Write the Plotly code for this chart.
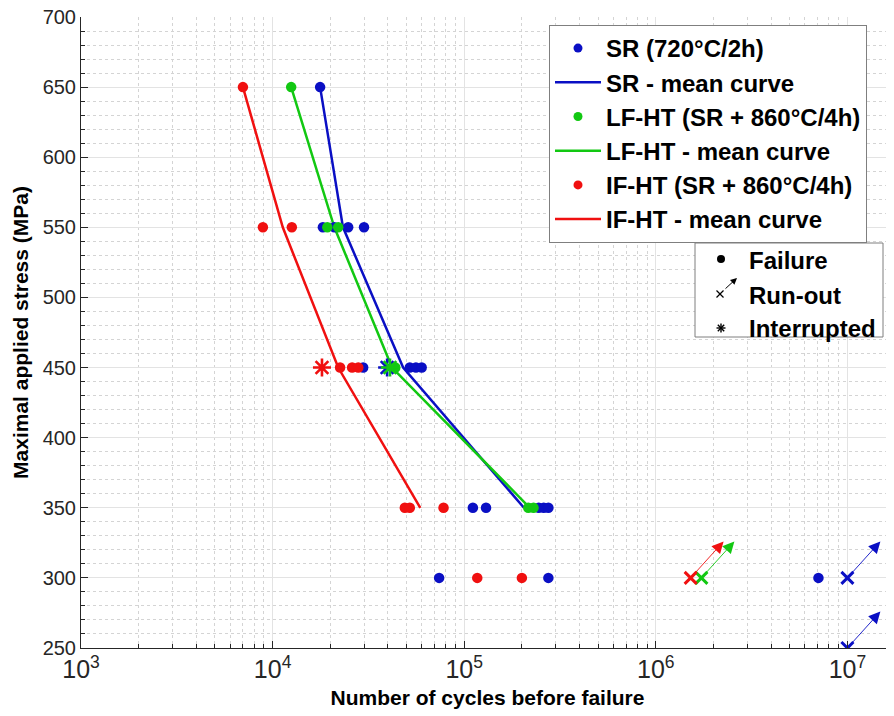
import numpy as np
import plotly.graph_objects as go

# ---------------- data ----------------
# SR (720°C/2h)
SR_FAIL_N = [1.77e4, 1.83e4, 2.1e4, 2.48e4, 3.0e4, 2.97e4, 5.2e4, 5.6e4, 6.0e4,
             1.11e5, 1.30e5, 2.45e5, 2.6e5, 2.75e5, 7.4e4, 2.75e5, 7.06e6]
SR_FAIL_S = [650, 550, 550, 550, 550, 450, 450, 450, 450,
             350, 350, 350, 350, 350, 300, 300, 300]
SR_INT_N = [3.96e4]
SR_INT_S = [450]
SR_RUN_N = [1.0e7, 1.0e7]
SR_RUN_S = [300, 250]
SR_MEAN_N = [1.77e4, 2.33e4, 4.8e4, 2.05e5]
SR_MEAN_S = [650, 550, 450, 350]

# LF-HT (SR + 860°C/4h)
LF_FAIL_N = [1.25e4, 1.93e4, 2.2e4, 4.37e4, 2.16e5, 2.3e5]
LF_FAIL_S = [650, 550, 550, 450, 350, 350]
LF_INT_N = [4.1e4]
LF_INT_S = [450]
LF_RUN_N = [1.73e6]
LF_RUN_S = [300]
LF_MEAN_N = [1.25e4, 2.1e4, 4.2e4, 2.2e5]
LF_MEAN_S = [650, 550, 450, 350]

# IF-HT (SR + 860°C/4h)
IF_FAIL_N = [7.0e3, 8.9e3, 1.26e4, 2.25e4, 2.6e4, 2.8e4, 4.9e4, 5.2e4, 7.8e4, 1.17e5, 2.0e5]
IF_FAIL_S = [650, 550, 550, 450, 450, 450, 350, 350, 350, 300, 300]
IF_INT_N = [1.81e4]
IF_INT_S = [450]
IF_RUN_N = [1.52e6]
IF_RUN_S = [300]
IF_MEAN_N = [7.0e3, 1.13e4, 2.2e4, 5.9e4]
IF_MEAN_S = [650, 550, 450, 350]

Y_TICKS = list(range(250, 701, 50))

# ---------------- style ----------------
BLUE = "#0a0fc4"
GREEN = "#12c812"
RED = "#f01010"
ARROW_DLOG = 0.172   # run-out arrow extent (decades)
ARROW_DS = 26        # run-out arrow extent (MPa)
FONT = "Arial, Liberation Sans, sans-serif"

series = [
    ("SR (720°C/2h)", "SR - mean curve", BLUE, SR_FAIL_N, SR_FAIL_S, SR_MEAN_N, SR_MEAN_S,
     SR_INT_N, SR_INT_S, SR_RUN_N, SR_RUN_S),
    ("LF-HT (SR + 860°C/4h)", "LF-HT - mean curve", GREEN, LF_FAIL_N, LF_FAIL_S, LF_MEAN_N, LF_MEAN_S,
     LF_INT_N, LF_INT_S, LF_RUN_N, LF_RUN_S),
    ("IF-HT (SR + 860°C/4h)", "IF-HT - mean curve", RED, IF_FAIL_N, IF_FAIL_S, IF_MEAN_N, IF_MEAN_S,
     IF_INT_N, IF_INT_S, IF_RUN_N, IF_RUN_S),
]

fig = go.Figure()

# mean curves (also legend entries) and legend-only point entries
for i, (pname, lname, col, fn, fs, mn, ms, inn, ins, rn, rs) in enumerate(series):
    fig.add_trace(go.Scatter(x=[None], y=[None], mode="markers", name=pname,
                             marker=dict(color=col, size=9), legendrank=2 * i + 1))
    fig.add_trace(go.Scatter(x=mn, y=ms, mode="lines", name=lname,
                             line=dict(color=col, width=2.5), legendrank=2 * i + 2))

# data markers
for i, (pname, lname, col, fn, fs, mn, ms, inn, ins, rn, rs) in enumerate(series):
    fig.add_trace(go.Scatter(x=fn, y=fs, mode="markers", showlegend=False,
                             marker=dict(color=col, size=10.5)))
    fig.add_trace(go.Scatter(x=inn, y=ins, mode="markers", showlegend=False,
                             marker=dict(symbol="asterisk-open", size=15, color=col,
                                         line=dict(color=col, width=2.6))))
    fig.add_trace(go.Scatter(x=rn, y=rs, mode="markers", showlegend=False,
                             marker=dict(symbol="x-thin-open", size=12, color=col,
                                         line=dict(color=col, width=3))))
    for n, s in zip(rn, rs):
        fig.add_annotation(x=np.log10(n) + ARROW_DLOG, y=s + ARROW_DS,
                           ax=np.log10(n), ay=s, xref="x", yref="y", axref="x", ayref="y",
                           text="", showarrow=True, arrowhead=2, arrowsize=2.6,
                           arrowwidth=0.9, arrowcolor=col)

# ---------------- geometry (screen pixels; page body has an 8px margin) ----------------
BODY = 8
W, H = 894 - BODY, 716 - BODY
L, R, T, B = 81, 894, 17, 648          # plot area in screen pixels
def px(x):
    return (x - L) / (R - L)
def py(y):
    return (B - y) / (B - T)

# ---------------- second (symbol) legend, drawn manually ----------------
shapes = []
shapes.append(dict(type="rect", xref="paper", yref="paper",
                   x0=px(695), x1=px(883), y0=py(337), y1=py(243),
                   line=dict(color="#7f7f7f", width=1), fillcolor="white", layer="above"))
# failure dot
shapes.append(dict(type="circle", xref="paper", yref="paper", xsizemode="pixel", ysizemode="pixel",
                   xanchor=px(721), yanchor=py(259), x0=-4, x1=4, y0=-4, y1=4,
                   fillcolor="black", line=dict(color="black", width=0), layer="above"))
# run-out small x
for d in (1, -1):
    shapes.append(dict(type="line", xref="paper", yref="paper", xsizemode="pixel", ysizemode="pixel",
                       xanchor=px(720), yanchor=py(294), x0=-3.5, x1=3.5, y0=-3.5 * d, y1=3.5 * d,
                       line=dict(color="black", width=1.3), layer="above"))
# interrupted asterisk
for dx, dy in ((4.5, 0), (0, 4.5), (3.2, 3.2), (3.2, -3.2)):
    shapes.append(dict(type="line", xref="paper", yref="paper", xsizemode="pixel", ysizemode="pixel",
                       xanchor=px(721), yanchor=py(328), x0=-dx, x1=dx, y0=-dy, y1=dy,
                       line=dict(color="black", width=1.4), layer="above"))

annots = [
    dict(x=px(737), y=py(278), xref="paper", yref="paper", ax=-13, ay=12, text="",
         showarrow=True, arrowhead=2, arrowsize=1.3, arrowwidth=1, arrowcolor="black"),
]
for txt, yy in (("Failure", 260), ("Run-out", 295), ("Interrupted", 328)):
    annots.append(dict(x=px(747), y=py(yy), xref="paper", yref="paper", text=txt,
                       showarrow=False, xanchor="left", yanchor="middle",
                       font=dict(family=FONT, size=24, color="black", weight="bold")))
for a in annots:
    fig.add_annotation(**a)

fig.update_layout(
    width=W, height=H,
    margin=dict(l=L - BODY, r=W - (R - BODY), t=T - BODY, b=H - (B - BODY), autoexpand=False),
    paper_bgcolor="white", plot_bgcolor="white",
    shapes=shapes,
    font=dict(family=FONT, color="#262626"),
    legend=dict(x=px(549), y=py(25), xanchor="left", yanchor="top",
                bgcolor="white", bordercolor="#7f7f7f", borderwidth=1,
                font=dict(family=FONT, size=24, color="black", weight="bold"),
                tracegroupgap=0, itemwidth=46, traceorder="normal"),
    showlegend=True,
)

fig.update_xaxes(
    type="log", range=[3, 3 + (R - L) / 191.6], dtick=1, automargin=False,
    exponentformat="power", showexponent="all", ticklabeloverflow="allow",
    showline=True, linecolor="#262626", linewidth=1,
    ticks="inside", ticklen=7, tickcolor="#262626",
    showgrid=True, gridcolor="#e3e3e3", gridwidth=1,
    minor=dict(dtick="D1", ticks="inside", ticklen=4, tickcolor="#262626",
               showgrid=True, gridcolor="#d4d4d4", griddash="dot"),
    tickfont=dict(size=20, color="#262626"),
    title=dict(text="Number of cycles before failure", standoff=8,
               font=dict(size=21, color="black", weight="bold")),
    zeroline=False,
)
fig.update_yaxes(
    range=[250, 700], tickvals=Y_TICKS, ticktext=[str(v) for v in Y_TICKS], automargin=False,
    ticklabeloverflow="allow",
    showline=True, linecolor="#262626", linewidth=1,
    ticks="inside", ticklen=7, tickcolor="#262626",
    showgrid=True, gridcolor="#e3e3e3", gridwidth=1,
    minor=dict(dtick=10, ticks="inside", ticklen=4, tickcolor="#262626",
               showgrid=True, gridcolor="#d4d4d4", griddash="dot"),
    tickfont=dict(size=20, color="#262626"),
    title=dict(text="Maximal applied stress (MPa)", standoff=8,
               font=dict(size=21, color="black", weight="bold")),
    zeroline=False,
)

fig.write_html("out.html")
